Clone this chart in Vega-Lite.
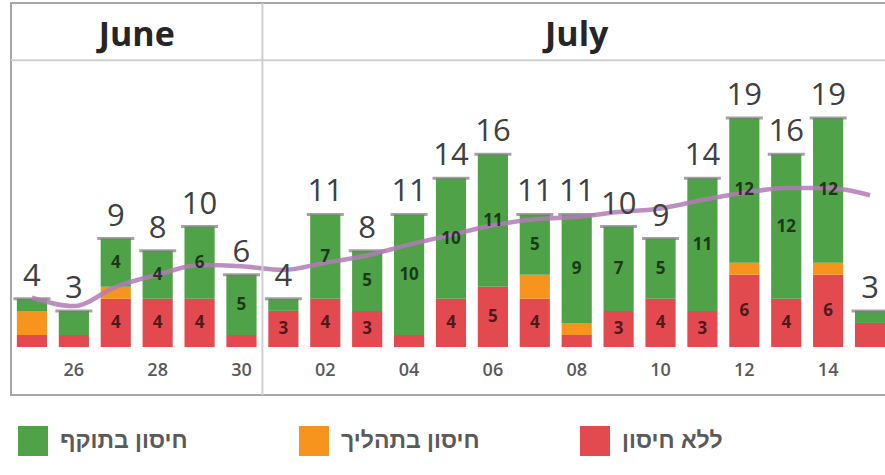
{
  "$schema": "https://vega.github.io/schema/vega-lite/v6.json",
  "width": 880,
  "height": 392,
  "autosize": {"type": "none"},
  "padding": {"left": 11, "top": 3, "right": 0, "bottom": 80},
  "background": "white",
  "datasets": {
    "segments": [
      {"date": "06-25", "group": "none", "status": "ללא חיסון", "count": 1},
      {"date": "06-25", "group": "partial", "status": "חיסון בתהליך", "count": 2},
      {"date": "06-25", "group": "valid", "status": "חיסון בתוקף", "count": 1},
      {"date": "06-26", "group": "none", "status": "ללא חיסון", "count": 1},
      {"date": "06-26", "group": "partial", "status": "חיסון בתהליך", "count": 0},
      {"date": "06-26", "group": "valid", "status": "חיסון בתוקף", "count": 2},
      {"date": "06-27", "group": "none", "status": "ללא חיסון", "count": 4},
      {"date": "06-27", "group": "partial", "status": "חיסון בתהליך", "count": 1},
      {"date": "06-27", "group": "valid", "status": "חיסון בתוקף", "count": 4},
      {"date": "06-28", "group": "none", "status": "ללא חיסון", "count": 4},
      {"date": "06-28", "group": "partial", "status": "חיסון בתהליך", "count": 0},
      {"date": "06-28", "group": "valid", "status": "חיסון בתוקף", "count": 4},
      {"date": "06-29", "group": "none", "status": "ללא חיסון", "count": 4},
      {"date": "06-29", "group": "partial", "status": "חיסון בתהליך", "count": 0},
      {"date": "06-29", "group": "valid", "status": "חיסון בתוקף", "count": 6},
      {"date": "06-30", "group": "none", "status": "ללא חיסון", "count": 1},
      {"date": "06-30", "group": "partial", "status": "חיסון בתהליך", "count": 0},
      {"date": "06-30", "group": "valid", "status": "חיסון בתוקף", "count": 5},
      {"date": "07-01", "group": "none", "status": "ללא חיסון", "count": 3},
      {"date": "07-01", "group": "partial", "status": "חיסון בתהליך", "count": 0},
      {"date": "07-01", "group": "valid", "status": "חיסון בתוקף", "count": 1},
      {"date": "07-02", "group": "none", "status": "ללא חיסון", "count": 4},
      {"date": "07-02", "group": "partial", "status": "חיסון בתהליך", "count": 0},
      {"date": "07-02", "group": "valid", "status": "חיסון בתוקף", "count": 7},
      {"date": "07-03", "group": "none", "status": "ללא חיסון", "count": 3},
      {"date": "07-03", "group": "partial", "status": "חיסון בתהליך", "count": 0},
      {"date": "07-03", "group": "valid", "status": "חיסון בתוקף", "count": 5},
      {"date": "07-04", "group": "none", "status": "ללא חיסון", "count": 1},
      {"date": "07-04", "group": "partial", "status": "חיסון בתהליך", "count": 0},
      {"date": "07-04", "group": "valid", "status": "חיסון בתוקף", "count": 10},
      {"date": "07-05", "group": "none", "status": "ללא חיסון", "count": 4},
      {"date": "07-05", "group": "partial", "status": "חיסון בתהליך", "count": 0},
      {"date": "07-05", "group": "valid", "status": "חיסון בתוקף", "count": 10},
      {"date": "07-06", "group": "none", "status": "ללא חיסון", "count": 5},
      {"date": "07-06", "group": "partial", "status": "חיסון בתהליך", "count": 0},
      {"date": "07-06", "group": "valid", "status": "חיסון בתוקף", "count": 11},
      {"date": "07-07", "group": "none", "status": "ללא חיסון", "count": 4},
      {"date": "07-07", "group": "partial", "status": "חיסון בתהליך", "count": 2},
      {"date": "07-07", "group": "valid", "status": "חיסון בתוקף", "count": 5},
      {"date": "07-08", "group": "none", "status": "ללא חיסון", "count": 1},
      {"date": "07-08", "group": "partial", "status": "חיסון בתהליך", "count": 1},
      {"date": "07-08", "group": "valid", "status": "חיסון בתוקף", "count": 9},
      {"date": "07-09", "group": "none", "status": "ללא חיסון", "count": 3},
      {"date": "07-09", "group": "partial", "status": "חיסון בתהליך", "count": 0},
      {"date": "07-09", "group": "valid", "status": "חיסון בתוקף", "count": 7},
      {"date": "07-10", "group": "none", "status": "ללא חיסון", "count": 4},
      {"date": "07-10", "group": "partial", "status": "חיסון בתהליך", "count": 0},
      {"date": "07-10", "group": "valid", "status": "חיסון בתוקף", "count": 5},
      {"date": "07-11", "group": "none", "status": "ללא חיסון", "count": 3},
      {"date": "07-11", "group": "partial", "status": "חיסון בתהליך", "count": 0},
      {"date": "07-11", "group": "valid", "status": "חיסון בתוקף", "count": 11},
      {"date": "07-12", "group": "none", "status": "ללא חיסון", "count": 6},
      {"date": "07-12", "group": "partial", "status": "חיסון בתהליך", "count": 1},
      {"date": "07-12", "group": "valid", "status": "חיסון בתוקף", "count": 12},
      {"date": "07-13", "group": "none", "status": "ללא חיסון", "count": 4},
      {"date": "07-13", "group": "partial", "status": "חיסון בתהליך", "count": 0},
      {"date": "07-13", "group": "valid", "status": "חיסון בתוקף", "count": 12},
      {"date": "07-14", "group": "none", "status": "ללא חיסון", "count": 6},
      {"date": "07-14", "group": "partial", "status": "חיסון בתהליך", "count": 1},
      {"date": "07-14", "group": "valid", "status": "חיסון בתוקף", "count": 12},
      {"date": "07-15", "group": "none", "status": "ללא חיסון", "count": 2},
      {"date": "07-15", "group": "partial", "status": "חיסון בתהליך", "count": 0},
      {"date": "07-15", "group": "valid", "status": "חיסון בתוקף", "count": 1}
    ],
    "days": [
      {"date": "06-25", "total": 4, "avg": 4.1},
      {"date": "06-26", "total": 3, "avg": 3.4},
      {"date": "06-27", "total": 9, "avg": 5.0},
      {"date": "06-28", "total": 8, "avg": 6.0},
      {"date": "06-29", "total": 10, "avg": 6.8},
      {"date": "06-30", "total": 6, "avg": 6.7},
      {"date": "07-01", "total": 4, "avg": 6.4},
      {"date": "07-02", "total": 11, "avg": 7.0},
      {"date": "07-03", "total": 8, "avg": 7.6},
      {"date": "07-04", "total": 11, "avg": 8.5},
      {"date": "07-05", "total": 14, "avg": 9.3},
      {"date": "07-06", "total": 16, "avg": 10.1},
      {"date": "07-07", "total": 11, "avg": 10.6},
      {"date": "07-08", "total": 11, "avg": 10.8},
      {"date": "07-09", "total": 10, "avg": 11.2},
      {"date": "07-10", "total": 9, "avg": 11.5},
      {"date": "07-11", "total": 14, "avg": 12.2},
      {"date": "07-12", "total": 19, "avg": 12.8},
      {"date": "07-13", "total": 16, "avg": 13.2},
      {"date": "07-14", "total": 19, "avg": 13.2},
      {"date": "07-15", "total": 3, "avg": 12.6}
    ],
    "one": [{}]
  },
  "layer": [
    {
      "data": {"name": "segments"},
      "mark": {"type": "bar", "width": {"band": 0.72}},
      "encoding": {
        "x": {
          "field": "date", "type": "ordinal", "title": null,
          "scale": {"paddingInner": 0, "paddingOuter": 0},
          "axis": {
            "values": ["06-26", "06-28", "06-30", "07-02", "07-04", "07-06", "07-08", "07-10", "07-12", "07-14"],
            "labelExpr": "split(datum.value, '-')[1]",
            "labelAngle": 0, "ticks": false, "domain": false, "grid": false,
            "offset": -25, "labelPadding": 0, "labelBaseline": "middle",
            "labelFont": "Open Sans", "labelFontSize": 18, "labelFontWeight": 600, "labelColor": "#595959"
          }
        },
        "y": {
          "field": "count", "type": "quantitative", "stack": "zero",
          "scale": {"domain": [-3.98, 28.55], "nice": false, "zero": false},
          "axis": null
        },
        "order": {"field": "group", "sort": "ascending"},
        "color": {
          "field": "status", "type": "nominal",
          "scale": {"domain": ["חיסון בתוקף", "חיסון בתהליך", "ללא חיסון"], "range": ["#4fa247", "#f7941e", "#e24a4f"]},
          "legend": {
            "title": null, "orient": "none", "legendX": 7, "legendY": 423,
            "direction": "horizontal", "columns": 3, "gridAlign": "all", "columnPadding": 100,
            "symbolType": "square", "symbolSize": 900, "symbolStrokeWidth": 0, "symbolOpacity": 1,
            "labelFont": "Liberation Sans", "labelFontSize": 23, "labelFontWeight": "bold", "labelColor": "#5a5a5a",
            "labelOffset": 12, "labelLimit": 400
          }
        }
      }
    },
    {
      "data": {"name": "days"},
      "mark": {"type": "tick", "size": 37, "thickness": 3, "color": "#7a7a7a"},
      "encoding": {
        "x": {"field": "date", "type": "ordinal"},
        "y": {"field": "total", "type": "quantitative", "axis": null}
      }
    },
    {
      "data": {"name": "days"},
      "mark": {"type": "line", "color": "#b27bb5", "strokeWidth": 4.5, "opacity": 0.85, "interpolate": "monotone"},
      "encoding": {
        "x": {"field": "date", "type": "ordinal"},
        "y": {"field": "avg", "type": "quantitative", "axis": null}
      }
    },
    {
      "data": {"name": "segments"},
      "mark": {"type": "text", "font": "Open Sans", "fontSize": 17, "fontWeight": "bold", "color": "#000", "opacity": 0.65, "baseline": "middle"},
      "encoding": {
        "x": {"field": "date", "type": "ordinal"},
        "y": {"field": "count", "type": "quantitative", "stack": "zero", "bandPosition": 0.5, "axis": null},
        "order": {"field": "group", "sort": "ascending"},
        "detail": {"field": "group", "type": "nominal"},
        "text": {"condition": {"test": "datum.count < 3", "value": ""}, "field": "count", "type": "quantitative"}
      }
    },
    {
      "data": {"name": "days"},
      "mark": {"type": "text", "font": "Open Sans", "fontSize": 31, "color": "#404040", "baseline": "alphabetic", "dy": -13},
      "encoding": {
        "x": {"field": "date", "type": "ordinal"},
        "y": {"field": "total", "type": "quantitative", "axis": null},
        "text": {"field": "total", "type": "quantitative"}
      }
    },
    {
      "data": {"name": "one"},
      "mark": {"type": "rule", "color": "#d0d0d0", "strokeWidth": 2},
      "encoding": {"y": {"datum": 23.8, "type": "quantitative", "axis": null}}
    },
    {
      "data": {"name": "one"},
      "mark": {"type": "rule", "color": "#d0d0d0", "strokeWidth": 2},
      "encoding": {"x": {"datum": "07-01", "type": "ordinal", "bandPosition": 0}}
    },
    {
      "data": {"name": "one"},
      "mark": {"type": "text", "text": "June", "font": "Open Sans", "fontSize": 34, "fontWeight": "bold", "color": "#262626", "baseline": "middle"},
      "encoding": {
        "x": {"datum": "06-28", "type": "ordinal", "bandPosition": 0},
        "y": {"datum": 25.8, "type": "quantitative", "axis": null}
      }
    },
    {
      "data": {"name": "one"},
      "mark": {"type": "text", "text": "July", "font": "Open Sans", "fontSize": 34, "fontWeight": "bold", "color": "#262626", "baseline": "middle"},
      "encoding": {
        "x": {"datum": "07-08", "type": "ordinal"},
        "y": {"datum": 25.8, "type": "quantitative", "axis": null}
      }
    }
  ],
  "config": {
    "view": {"stroke": "#a6a6a6", "strokeWidth": 2},
    "legend": {"padding": 0}
  }
}
